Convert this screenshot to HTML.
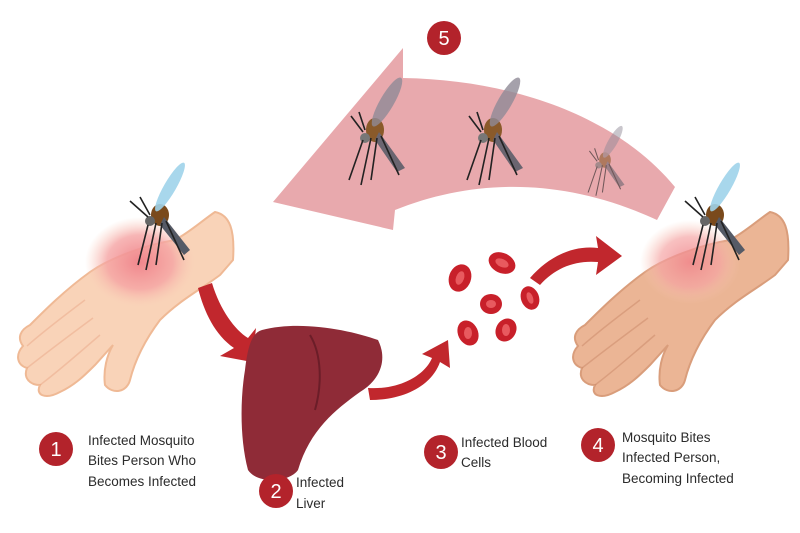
<!DOCTYPE html>
<html><head><meta charset="utf-8"><style>
html,body{margin:0;padding:0;background:#fff;width:800px;height:533px;overflow:hidden}
svg{display:block}
text{font-family:"Liberation Sans",sans-serif;font-size:13.5px;fill:#2b2b2b}
.n{fill:#fff;font-size:20px;text-anchor:middle}
</style></head><body>
<svg width="800" height="533" viewBox="0 0 800 533">
<defs>
<radialGradient id="g1" cx="0.5" cy="0.5" r="0.5"><stop offset="0" stop-color="#f0868c"/><stop offset="0.6" stop-color="#f5a3a3" stop-opacity=".8"/><stop offset="1" stop-color="#f9c9b5" stop-opacity="0"/></radialGradient>
<g id="hand">
<path d="M770,212 C785,215 790,230 788,260 L775,275 C755,290 735,300 715,320 C700,340 690,360 685,380 C682,392 668,395 660,385 C658,370 662,355 668,345 L650,365 C640,375 630,385 615,392 C600,400 590,395 595,385 C585,385 578,378 582,368 C572,365 570,355 578,346 C572,338 575,330 585,325 C600,310 620,290 645,272 C665,258 700,245 730,240 C745,232 758,220 770,212 Z"/>
</g>
<g id="fl" fill="none" stroke-width="1.5" opacity=".5">
<path d="M582,346 C600,330 620,315 640,300 M582,368 C605,350 625,335 648,318 M595,385 C615,370 635,352 655,335"/>
</g>
<g id="mos">
<ellipse cx="0" cy="0" rx="9" ry="11" fill="#7a4a1c"/>
<path d="M4,2 L30,35 L24,40 L0,10Z" fill="#555a66"/>
<ellipse cx="10" cy="-28" rx="6" ry="28" transform="rotate(30 10 -28)" fill="#9fd3ea" opacity=".9"/>
<circle cx="-10" cy="6" r="5" fill="#666"/>
<path d="M-12,10 L-22,50 M-4,8 L-14,55 M2,8 L-4,50 M6,6 L24,45 M-12,2 L-30,-14 M-10,0 L-20,-18" stroke="#222" stroke-width="1.6" fill="none"/>
</g>
<g id="mosg">
<ellipse cx="0" cy="0" rx="9" ry="12" fill="#8a5a2a"/>
<path d="M4,2 L30,38 L22,42 L0,10Z" fill="#6a6570"/>
<ellipse cx="12" cy="-28" rx="7" ry="28" transform="rotate(30 12 -28)" fill="#8f8a96" opacity=".8"/>
<circle cx="-10" cy="8" r="5" fill="#777"/>
<path d="M-12,10 L-26,50 M-4,8 L-14,55 M2,8 L-4,50 M6,6 L24,45 M-12,2 L-24,-14 M-10,0 L-16,-18" stroke="#222" stroke-width="1.6" fill="none"/>
</g>
</defs>
<!-- big pink arrow -->
<path d="M675,187 C620,120 520,80 403,78 L403,48 L273,202 L393,230 L395,210 C470,180 560,175 657,220 Z" fill="#e8a9ad"/>
<use href="#mosg" transform="translate(375,130)"/>
<use href="#mosg" transform="translate(493,130)"/>
<use href="#mosg" transform="translate(605,160) scale(.65)" opacity=".6"/>
<!-- hands -->
<use href="#hand" transform="translate(-555,0)" fill="#f9d3b8" stroke="#efb995" stroke-width="2"/>
<use href="#fl" transform="translate(-555,0)" stroke="#e9a887"/>
<ellipse cx="140" cy="262" rx="55" ry="45" fill="url(#g1)"/>
<use href="#hand" fill="#ebb595" stroke="#d99d7b" stroke-width="2"/>
<use href="#fl" stroke="#c98868"/>
<ellipse cx="690" cy="262" rx="50" ry="42" fill="url(#g1)" opacity=".85"/>
<use href="#mos" transform="translate(160,215)"/>
<use href="#mos" transform="translate(715,215)"/>
<!-- red arrows -->
<path d="M198,288 L212,283 C220,310 235,330 248,338 L256,328 L252,362 L220,356 L234,348 C215,335 204,312 198,288Z" fill="#c1272d"/>
<path d="M368,388 C400,390 425,375 432,358 L422,354 L448,340 L450,368 L440,362 C432,385 405,400 370,400Z" fill="#c1272d"/>
<path d="M530,278 C550,255 575,245 598,248 L596,236 L622,256 L596,275 L598,262 C575,260 555,268 540,285Z" fill="#c1272d"/>
<!-- liver -->
<path d="M262,330 C300,320 350,330 378,340 C388,360 380,380 360,392 C335,410 310,430 298,470 C290,482 258,485 248,470 C240,440 240,400 245,370 C248,345 252,333 262,330Z" fill="#8f2b37"/>
<path d="M310,335 C322,355 322,385 315,410" stroke="#6b1d28" stroke-width="2" fill="none"/>
<!-- blood cells -->
<g fill="#c8202a">
<ellipse cx="460" cy="278" rx="11" ry="14" transform="rotate(20 460 278)"/>
<ellipse cx="502" cy="263" rx="14" ry="10" transform="rotate(25 502 263)"/>
<ellipse cx="491" cy="304" rx="11" ry="10"/>
<ellipse cx="530" cy="298" rx="9" ry="12" transform="rotate(-20 530 298)"/>
<ellipse cx="468" cy="333" rx="10" ry="13" transform="rotate(-25 468 333)"/>
<ellipse cx="506" cy="330" rx="10" ry="12" transform="rotate(30 506 330)"/>
</g>
<g fill="#e85a5f">
<ellipse cx="460" cy="278" rx="4" ry="7" transform="rotate(20 460 278)"/>
<ellipse cx="502" cy="263" rx="7" ry="4" transform="rotate(25 502 263)"/>
<ellipse cx="491" cy="304" rx="5" ry="4"/>
<ellipse cx="530" cy="298" rx="3" ry="6" transform="rotate(-20 530 298)"/>
<ellipse cx="468" cy="333" rx="4" ry="6"/>
<ellipse cx="506" cy="330" rx="4" ry="6"/>
</g>
<!-- numbers -->
<g fill="#b3232b">
<circle cx="56" cy="449" r="17"/><circle cx="276" cy="491" r="17"/><circle cx="441" cy="452" r="17"/><circle cx="598" cy="445" r="17"/><circle cx="444" cy="38" r="17"/>
</g>
<text class="n" x="56" y="456">1</text><text class="n" x="276" y="498">2</text><text class="n" x="441" y="459">3</text><text class="n" x="598" y="452">4</text><text class="n" x="444" y="45">5</text>
<text x="88" y="445">Infected Mosquito</text>
<text x="88" y="465">Bites Person Who</text>
<text x="88" y="486">Becomes Infected</text>
<text x="296" y="487">Infected</text>
<text x="296" y="508">Liver</text>
<text x="461" y="447">Infected Blood</text>
<text x="461" y="467">Cells</text>
<text x="622" y="442">Mosquito Bites</text>
<text x="622" y="462">Infected Person,</text>
<text x="622" y="483">Becoming Infected</text>
</svg>
</body></html>
